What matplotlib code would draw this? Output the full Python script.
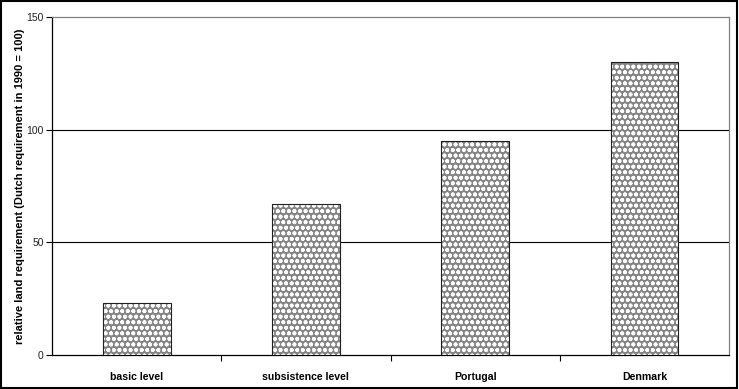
import numpy as np
import matplotlib
matplotlib.use("Agg")
import matplotlib.pyplot as plt
from matplotlib.patches import Rectangle

# data
categories = ["basic level", "subsistence level", "Portugal", "Denmark"]
values = [23, 67, 95, 130]
y_ticks = [0, 50, 100, 150]

plt.rcParams['font.family'] = ['Liberation Sans', 'DejaVu Sans']
plt.rcParams['hatch.linewidth'] = 1.2

fig = plt.figure(figsize=(7.39, 3.89), dpi=100)
ax = fig.add_axes([0.0704, 0.0874, 0.9161, 0.8689])

x = np.arange(len(categories))
# hatched fill (white pattern on gray), then a black outline on top
ax.bar(x, values, width=0.4, color='#858585', edgecolor='white',
       hatch='ooo', linewidth=0, zorder=3)
ax.bar(x, values, width=0.4, fill=False, edgecolor='#202020',
       linewidth=0.8, zorder=4)

ax.set_xlim(-0.5, len(categories) - 0.5)
ax.set_ylim(0, 150)
ax.set_yticks(y_ticks)
ax.set_yticklabels([str(v) for v in y_ticks], fontsize=7.5, color='#222222')
for v in y_ticks[1:-1]:
    ax.axhline(v, color='black', linewidth=0.8, zorder=1)

ax.set_xticks(x)
ax.set_xticklabels(categories, fontsize=7.6, fontweight='bold')
ax.tick_params(axis='x', which='major', length=0, pad=12)
ax.set_xticks(np.arange(0.5, len(categories) - 0.5, 1), minor=True)
ax.tick_params(axis='x', which='minor', length=4, direction='out', width=0.8)
ax.tick_params(axis='y', length=4, direction='out', width=0.8, pad=2)

ax.set_ylabel("relative land requirement (Dutch requirement in 1990 = 100)",
              fontsize=8, fontweight='bold', labelpad=1)

for side in ['left', 'bottom']:
    ax.spines[side].set_color('black')
    ax.spines[side].set_linewidth(0.9)
for side in ['top', 'right']:
    ax.spines[side].set_color('#808080')
    ax.spines[side].set_linewidth(0.9)

# outer frame of the chart
fig.patches.append(Rectangle((0.002, 0.003), 0.995, 0.994, transform=fig.transFigure,
                             fill=False, edgecolor='black', linewidth=1.5))

fig.savefig("out.png", dpi=100)
